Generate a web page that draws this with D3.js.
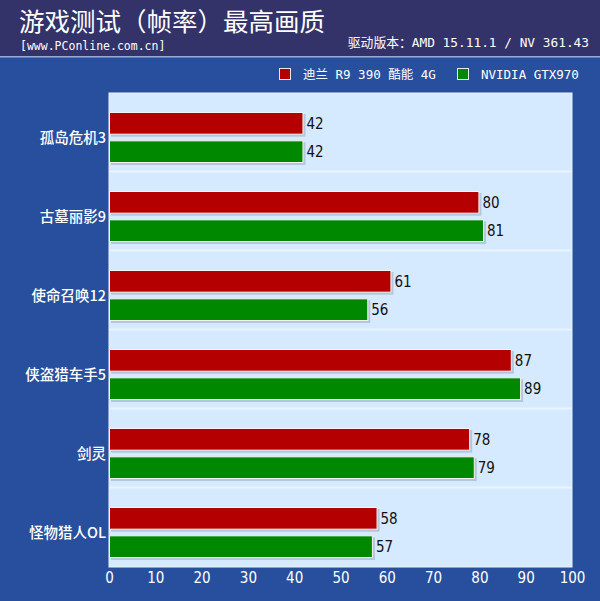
<!DOCTYPE html>
<html><head><meta charset="utf-8">
<script src="https://cdn.jsdelivr.net/npm/d3@7"></script>
<style>html,body{margin:0;padding:0;background:#284f9e;}svg{display:block;}</style>
</head><body>
<script>
const title = "游戏测试（帧率）最高画质";
const subtitle = "[www.PConline.com.cn]";
const driverNote = "驱动版本：AMD 15.11.1 / NV 361.43";
const categories = ["孤岛危机3","古墓丽影9","使命召唤12","侠盗猎车手5","剑灵","怪物猎人OL"];
const seriesNames = ["迪兰 R9 390 酷能 4G","NVIDIA GTX970"];
const seriesColors = ["#b50000","#008800"];
const r9390 = [42,80,61,87,78,58];
const gtx970 = [42,81,56,89,79,57];
const xTicks = [0,10,20,30,40,50,60,70,80,90,100];

(function(){
const W=600,H=601;
const svg=d3.select("body").append("svg").attr("width",W).attr("height",H);
svg.append("rect").attr("width",W).attr("height",H).attr("fill","#284f9e");
svg.append("rect").attr("width",W).attr("height",56).attr("fill","#33336a");
svg.append("rect").attr("y",56).attr("width",W).attr("height",1.5).attr("fill","#98a8d8");

svg.append("text").attr("x",19).attr("y",31).attr("fill","#fff")
  .attr("font-family","'Noto Sans CJK SC'").attr("font-size",25.5).text(title);
svg.append("text").attr("x",20).attr("y",50).attr("fill","#fff")
  .attr("font-family","'DejaVu Sans Mono','Liberation Mono',monospace").attr("font-size",11.5).text(subtitle);
svg.append("text").attr("x",589).attr("y",47).attr("text-anchor","end").attr("fill","#fff")
  .attr("font-family","'DejaVu Sans Mono','Noto Sans CJK SC',monospace").attr("font-size",12.8).text(driverNote);

const legX=[279,457];
seriesNames.forEach((n,i)=>{
  svg.append("rect").attr("x",legX[i]+0.5).attr("y",68.5).attr("width",11).attr("height",11)
    .attr("fill",seriesColors[i]).attr("stroke","#e8e8e8").attr("stroke-width",1);
  svg.append("text").attr("x",legX[i]+24).attr("y",79).attr("fill","#fff")
    .attr("font-family","'DejaVu Sans Mono','Noto Sans CJK SC',monospace").attr("font-size",12.5).text(n);
});

const pL=109,pR=572,pT=93,pB=567;
const x=d3.scaleLinear().domain([0,100]).range([pL,pR]);
const y=d3.scaleBand().domain(categories).range([pT,pB]);
const yi=d3.scaleBand().domain(seriesNames).range([19,70]).paddingInner(0.2);

svg.append("rect").attr("x",pL).attr("y",pT).attr("width",pR-pL).attr("height",pB-pT)
  .attr("fill","#d6eaff").attr("stroke","#eaf4ff").attr("stroke-width",1);
svg.append("g").selectAll("line").data(categories.slice(1)).join("line")
  .attr("x1",pL).attr("x2",pR).attr("y1",d=>y(d)-0.5).attr("y2",d=>y(d)-0.5)
  .attr("stroke","#eaf4ff").attr("stroke-width",2);

const data=[];
categories.forEach((c,i)=>{
  data.push({c,s:seriesNames[0],v:r9390[i],col:seriesColors[0]});
  data.push({c,s:seriesNames[1],v:gtx970[i],col:seriesColors[1]});
});
const g=svg.append("g");
g.selectAll("rect.sh").data(data).join("rect").attr("class","sh")
  .attr("x",x(0)+2).attr("y",d=>y(d.c)+yi(d.s)+2)
  .attr("width",d=>x(d.v)-x(0)).attr("height",yi.bandwidth())
  .attr("fill","#8a9bb0").attr("opacity",0.45);
g.selectAll("rect.bar").data(data).join("rect").attr("class","bar")
  .attr("x",x(0)+0.5).attr("y",d=>y(d.c)+yi(d.s)+0.5)
  .attr("width",d=>x(d.v)-x(0)-1).attr("height",yi.bandwidth()-1)
  .attr("fill",d=>d.col).attr("stroke","#f4f4f4").attr("stroke-width",1);
g.selectAll("text.val").data(data).join("text").attr("class","val")
  .attr("x",d=>x(d.v)+3).attr("y",d=>y(d.c)+yi(d.s)+yi.bandwidth()/2)
  .attr("dy","0.36em").attr("fill","#111")
  .attr("font-family","'Liberation Sans Narrow','DejaVu Sans Condensed','Liberation Sans',Arial,sans-serif").attr("font-size",15)
  .text(d=>d.v);

svg.append("g").selectAll("text").data(categories).join("text")
  .attr("x",106).attr("y",d=>y(d)+(yi(seriesNames[0])+yi(seriesNames[1])+yi.bandwidth())/2)
  .attr("dy","0.36em").attr("text-anchor","end").attr("fill","#fff")
  .attr("font-family","'Noto Sans CJK SC',sans-serif").attr("font-size",14.5).attr("font-weight",500)
  .text(d=>d);

const ax=svg.append("g").attr("transform",`translate(0,${pB})`)
  .call(d3.axisBottom(x).tickValues(xTicks).tickSize(0).tickPadding(5).tickFormat(d3.format("d")));
ax.select(".domain").remove();
ax.selectAll("text").attr("fill","#fff")
  .attr("font-family","'Liberation Sans Narrow','DejaVu Sans Condensed','Liberation Sans',Arial,sans-serif").attr("font-size",15);
})();
</script>
</body></html>
